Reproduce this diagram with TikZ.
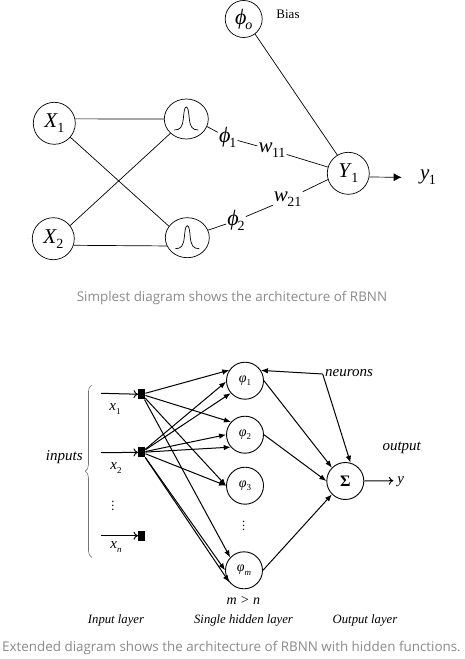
\documentclass[tikz,border=0pt]{standalone}
\usepackage{amsmath}
\usepackage{fontspec}
\setmainfont{Liberation Serif}
\setsansfont{Open Sans}
\usetikzlibrary{arrows.meta,shapes.geometric,decorations.pathreplacing}
\definecolor{capgray}{HTML}{8A8A8A}
\newcommand{\subdig}[1]{\raisebox{-0.24em}{\fontsize{14}{14}\selectfont #1}}
\newcommand{\bigvar}[2]{\textit{#1}\kern-0.5pt\subdig{#2}}
\newcommand{\bigphi}[1]{{\fontsize{22}{22}\selectfont\textit{ϕ}}\kern-1pt\subdig{#1}}
\newcommand{\smallvar}[2]{\textit{#1}\raisebox{-0.25em}{\fontsize{9}{9}\selectfont #2}}
\tikzset{
	unit/.style={draw, circle, line width=0.7pt, inner sep=0pt, minimum size=42pt, font=\fontsize{21}{21}\selectfont},
	rbf/.style={draw, ellipse, line width=0.7pt, inner sep=0pt, minimum width=44pt, minimum height=40pt},
	lab/.style={inner sep=1pt, font=\fontsize{21}{21}\selectfont},
	hid/.style={draw, circle, line width=0.9pt, inner sep=0pt, minimum size=37pt, font=\fontsize{14}{14}\selectfont},
	sq/.style={fill=black, inner sep=0pt, minimum width=7pt, minimum height=10pt},
	txt/.style={inner sep=0pt, font=\fontsize{12.7}{12.7}\selectfont\itshape},
	txtbig/.style={inner sep=0pt, font=\fontsize{15}{15}\selectfont\itshape},
	captxt/.style={inner sep=0pt, text=capgray, font=\fontsize{13.4}{13.4}\selectfont\sffamily},
	wire/.style={line width=0.7pt},
	conn/.style={-{Latex[length=7pt,width=5.5pt]}, line width=1pt},
	feed/.style={-{To[length=4.5pt,width=8pt]}, line width=1pt}
}
\begin{document}
\begin{tikzpicture}[x=1pt,y=-1pt]
	\useasboundingbox (0,0) rectangle (464,659);
	\node[unit, minimum size=37pt] (bias) at (243.7,19) {\bigphi{\textit{o}}};
	\node[inner sep=0pt, font=\fontsize{13}{13}\selectfont] (biastxt) at (288,14.5) {Bias};
	\node[unit] (xa) at (54.3,123.3) {\bigvar{X}{1}};
	\node[unit] (xb) at (53.3,238.7) {\bigvar{X}{2}};
	\node[rbf] (ga) at (186.3,119) {};
	\node[rbf] (gb) at (187.3,237.7) {};
	\node[unit] (ya) at (348.3,173.3) {\bigvar{Y}{1}};
	\node[lab] (yout) at (428,177) {\bigvar{y}{1}};
	\node[lab] (lphia) at (227.7,137.7) {\bigphi{1}};
	\node[lab] (lphib) at (236,220.7) {\bigphi{2}};
	\node[lab] (lwa) at (272,150) {\bigvar{w}{11}};
	\node[lab] (lwb) at (287.7,199) {\bigvar{w}{21}};
	\coordinate (yend) at (401.7,177.3);
	\draw[wire, shift={(ga)}] (-12,11) .. controls (-6,11) and (-4,8) .. (-3,0) .. controls (-2.4,-6) and (-2,-12) .. (0,-12) .. controls (2,-12) and (2.4,-6) .. (3,0) .. controls (4,8) and (6,11) .. (12,11);
	\draw[wire, shift={(gb)}] (-12,11) .. controls (-6,11) and (-4,8) .. (-3,0) .. controls (-2.4,-6) and (-2,-12) .. (0,-12) .. controls (2,-12) and (2.4,-6) .. (3,0) .. controls (4,8) and (6,11) .. (12,11);
	\draw[wire] (xa.12)--(ga.west);
	\draw[wire] (xb.-18)--(gb.-158);
	\draw[wire] (xa.-41)--(gb.148);
	\draw[wire] (xb.38)--(ga.222);
	\draw[wire] (bias.-53)--(ya.121);
	\draw[wire] (ga.-20)--(lphia);
	\draw[wire] (lphia)--(lwa);
	\draw[wire] (lwa)--(ya.163);
	\draw[wire] (gb.20)--(lphib);
	\draw[wire] (lphib)--(lwb);
	\draw[wire] (lwb)--(ya.197);
	\draw[-{Latex[length=8pt,width=8pt]}, wire] (ya.-10)--(yend);
	\node[captxt] (capa) at (232,298) {Simplest diagram shows the architecture of RBNN};

	\node[sq] (sqa) at (141.7,394.3) {};
	\node[sq] (sqb) at (141.7,452.3) {};
	\node[sq] (sqc) at (141.7,535.7) {};
	\node[hid] (phia) at (245,380.7) {\smallvar{φ}{1}};
	\node[hid] (phib) at (245,434.7) {\smallvar{φ}{2}};
	\node[hid] (phic) at (245,485.7) {\smallvar{φ}{3}};
	\node[hid] (phim) at (244,570.3) {\smallvar{φ}{\textit{m}}};
	\node[hid, font=\fontsize{16}{16}\selectfont] (sum) at (345.3,481) {\textbf{Σ}};
	\node[txtbig] (neu) at (349,373.3) {neurons};
	\coordinate (neuc) at (322.7,374);
	\coordinate (ina) at (101,393.3);
	\coordinate (inb) at (101,452.7);
	\coordinate (inc) at (101,535.7);
	\coordinate (yb) at (393.3,480.7);
	\node[txtbig] (lxa) at (115,409) {\smallvar{x}{\upshape 1}};
	\node[txtbig] (lxb) at (116,468.3) {\smallvar{x}{\upshape 2}};
	\node[txt] (lxd) at (113.3,503) {$\vdots$};
	\node[txtbig] (lxn) at (116,546.7) {\smallvar{x}{n}};
	\node[txtbig] (linp) at (64.3,456.7) {inputs};
	\node[txt] (lphd) at (244,523.3) {$\vdots$};
	\node[txt, font=\fontsize{14}{14}\selectfont\itshape] (lmn) at (243.3,600.7) {m > n};
	\node[txt] (linl) at (116,620) {Input layer};
	\node[txt] (lhid) at (243.5,620) {Single hidden layer};
	\node[txt] (lout) at (365,620) {Output layer};
	\node[txtbig] (loutp) at (401.7,447.7) {output};
	\node[txtbig] (ly) at (400.7,481.5) {y};
	\node[captxt] (capb) at (231.5,648) {Extended diagram shows the architecture of RBNN with hidden functions.};
	\draw[decorate, decoration={brace,amplitude=6.5pt}, line width=0.6pt, color=gray!90!black] (91.7,557.3)--(91.7,385);
	\draw[feed] (ina)--(sqa);
	\draw[feed] (inb)--(sqb);
	\draw[feed] (inc)--(sqc);
	\draw[conn] (sqa)--(phia.146);
	\draw[conn] (sqa)--(phib.138);
	\draw[conn] (sqa)--(phic.180);
	\draw[conn] (sqa)--(phim.137);
	\draw[conn] (sqb)--(phia.183);
	\draw[conn] (sqb)--(phia.221);
	\draw[conn] (sqb)--(phib.180);
	\draw[conn] (sqb)--(phib.221);
	\draw[conn] (sqb)--(phic.180);
	\draw[conn] (sqb)--(phim.180);
	\draw[conn] (sqb)--(phim.219);
	\draw[conn] (phia.0)--(sum.135);
	\draw[conn] (phib.0)--(sum.180);
	\draw[conn] (phim.0)--(sum.225);
	\draw[conn] (neuc)--(phia.33);
	\draw[conn] (neuc)--(sum.74);
	\draw[feed] (sum.0)--(yb);
\end{tikzpicture}
\end{document}
